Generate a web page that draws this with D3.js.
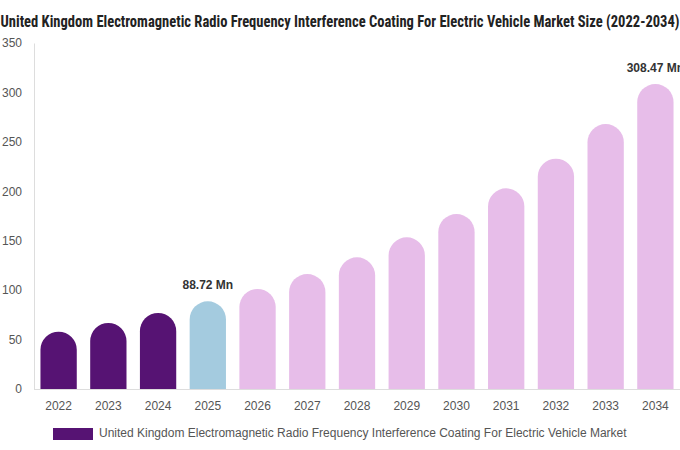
<!DOCTYPE html>
<html>
<head>
<meta charset="utf-8">
<script src="https://cdn.jsdelivr.net/npm/d3@7"></script>
<style>
  body { margin: 0; background: #fff; }
  svg { display: block; font-family: "Liberation Sans", Arial, sans-serif; }
</style>
</head>
<body>
<div id="chart"></div>
<script>
const years = ["2022", "2023", "2024", "2025", "2026", "2027", "2028", "2029", "2030", "2031", "2032", "2033", "2034"];
const marketSize = [58.0, 66.8, 76.9, 88.72, 101.2, 116.3, 133.2, 153.4, 177.0, 203.0, 233.0, 268.0, 308.47];
const yTicks = [0, 50, 100, 150, 200, 250, 300, 350];
const labelledYears = ["2025", "2034"];

const titleText = "United Kingdom Electromagnetic Radio Frequency Interference Coating For Electric Vehicle Market Size (2022-2034)";
const legendText = "United Kingdom Electromagnetic Radio Frequency Interference Coating For Electric Vehicle Market";

const width = 680, height = 450;
const margin = { top: 43, right: 0, bottom: 61, left: 34 };

const colorFor = y => {
  if (+y <= 2024) return "#561373";
  if (+y === 2025) return "#a4cbdf";
  return "#e7bde9";
};

const svg = d3.select("#chart").append("svg")
  .attr("width", width)
  .attr("height", height);

const x = d3.scaleBand()
  .domain(years)
  .range([margin.left, width - margin.right])
  .paddingInner(0.27)
  .paddingOuter(0.13);

const y = d3.scaleLinear()
  .domain([0, 350])
  .range([height - margin.bottom, margin.top]);

// title
svg.append("text")
  .attr("x", 340)
  .attr("y", 27)
  .attr("text-anchor", "middle")
  .style("font-family", "'Liberation Sans Narrow', 'Roboto Condensed', sans-serif")
  .style("font-weight", "bold")
  .style("font-size", "17px")
  .style("fill", "#222")
  .attr("textLength", 679)
  .attr("lengthAdjust", "spacingAndGlyphs")
  .text(titleText);

// y axis
const yAxis = svg.append("g")
  .attr("transform", `translate(${margin.left},0)`)
  .call(d3.axisLeft(y).tickValues(yTicks).tickSize(0).tickPadding(12));
yAxis.select(".domain").attr("stroke", "#ddd");
yAxis.selectAll("text").style("font-size", "12px").style("fill", "#555")
  .style("font-family", "'Liberation Sans', Arial, sans-serif");

// x axis
const xAxis = svg.append("g")
  .attr("transform", `translate(0,${height - margin.bottom})`)
  .call(d3.axisBottom(x).tickSize(0).tickPadding(12));
xAxis.select(".domain").attr("stroke", "#ddd").attr("d", `M${margin.left},0.5H${width}`);
xAxis.selectAll("text").style("font-size", "12px").style("fill", "#555")
  .style("font-family", "'Liberation Sans', Arial, sans-serif");

// rounded-top bars
const data = years.map((yr, i) => ({ year: yr, value: marketSize[i] }));

function barPath(d) {
  const x0 = x(d.year), w = x.bandwidth(), r = w / 2;
  const yb = y(0), yt = y(d.value);
  return `M${x0},${yb}V${yt + r}A${r},${r} 0 0 1 ${x0 + w},${yt + r}V${yb}Z`;
}

svg.append("g").selectAll("path")
  .data(data)
  .enter().append("path")
  .attr("d", barPath)
  .attr("fill", d => colorFor(d.year));

// value labels
svg.append("g").selectAll("text")
  .data(data.filter(d => labelledYears.includes(d.year)))
  .enter().append("text")
  .attr("x", d => x(d.year) + x.bandwidth() / 2)
  .attr("y", d => y(d.value) - 12)
  .attr("text-anchor", "middle")
  .style("font-size", "12px")
  .style("font-weight", "bold")
  .style("fill", "#333")
  .text(d => d.value.toFixed(2) + " Mn");

// legend
svg.append("rect")
  .attr("x", 53).attr("y", 428)
  .attr("width", 40).attr("height", 12)
  .attr("fill", "#561373");

svg.append("text")
  .attr("x", 99).attr("y", 437)
  .style("font-size", "12px")
  .style("fill", "#555")
  .text(legendText);
</script>
</body>
</html>
